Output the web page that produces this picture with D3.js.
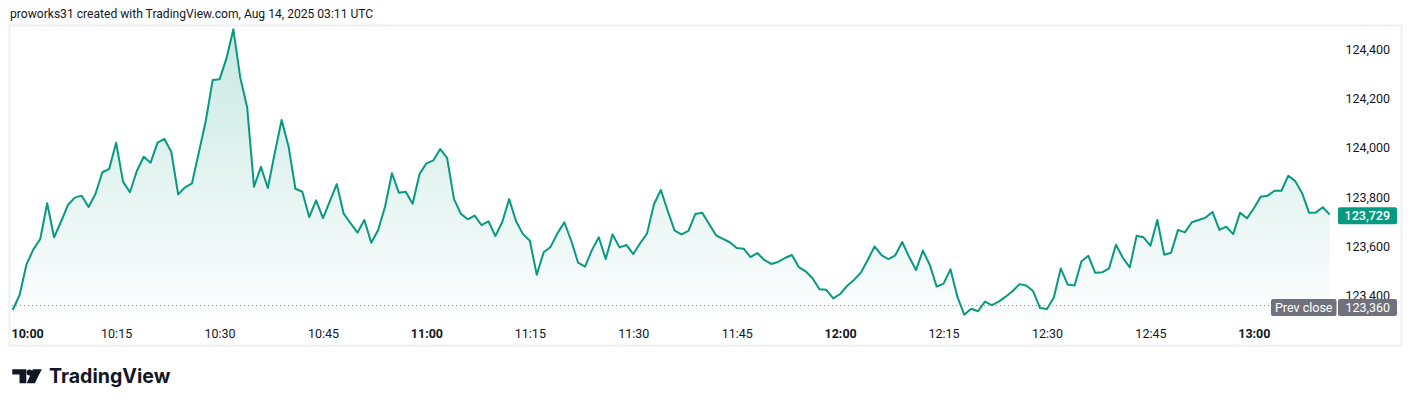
<!DOCTYPE html>
<html>
<head>
<meta charset="utf-8">
<script src="https://cdn.jsdelivr.net/npm/d3@7"></script>
<style>
  html, body { margin: 0; padding: 0; background: #ffffff; }
  svg { display: block; font-family: Roboto, "Liberation Sans", sans-serif; }
</style>
</head>
<body>
<svg id="chart" width="1412" height="407"></svg>
<script>
// ---- data ----
const startTime = "2025-08-14T10:00:00";
const prices = [
  123342,123403,123527,123588,123630,123775,123637,123700,123768,123798,
  123806,123760,123813,123901,123915,124021,123863,123820,123906,123964,
  123940,124021,124036,123984,123811,123840,123856,123982,124109,124275,
  124278,124363,124481,124286,124165,123842,123923,123837,123978,124113,
  124007,123834,123822,123719,123787,123715,123784,123853,123733,123694,
  123656,123707,123615,123667,123761,123897,123818,123822,123773,123894,
  123937,123949,123995,123959,123792,123732,123710,123725,123686,123702,
  123642,123699,123792,123702,123650,123623,123485,123576,123598,123653,
  123698,123623,123534,123518,123585,123637,123549,123649,123596,123606,
  123569,123613,123653,123771,123829,123744,123664,123649,123663,123732,
  123737,123691,123645,123631,123617,123594,123591,123557,123573,123545,
  123529,123537,123553,123565,123516,123499,123471,123426,123424,123389,
  123407,123439,123464,123493,123545,123600,123565,123548,123564,123618,
  123558,123504,123583,123525,123437,123449,123507,123396,123323,123347,
  123337,123376,123362,123376,123396,123418,123447,123441,123418,123350,
  123346,123394,123510,123445,123441,123540,123562,123493,123495,123511,
  123607,123554,123515,123643,123637,123603,123707,123566,123574,123667,
  123657,123698,123707,123717,123740,123667,123680,123650,123737,123714,
  123755,123802,123806,123826,123826,123887,123865,123816,123737,123738,
  123759,123729
];
const timeTickLabels = ["10:00","10:15","10:30","10:45","11:00","11:15","11:30","11:45","12:00","12:15","12:30","12:45","13:00"];
const boldTimeLabels = ["10:00","11:00","12:00","13:00"];
const priceTicks = [123400, 123600, 123800, 124000, 124200, 124400];
const prevClose = 123360;
const lastPrice = 123729;
const headerText = "proworks31 created with TradingView.com, Aug 14, 2025 03:11 UTC";

// ---- setup ----
const svg = d3.select("#chart");
const t0 = new Date(startTime);
const parseHM = s => { const [h, m] = s.split(":").map(Number); const d = new Date(t0); d.setHours(h, m, 0, 0); return d; };
const data = prices.map((v, i) => ({ t: new Date(t0.getTime() + i * 60000), v }));

const x = d3.scaleTime()
  .domain([data[0].t, data[data.length - 1].t])
  .range([12.7, 1329.7]);
const y = d3.scaleLinear()
  .domain([123400, 124400])
  .range([295.7, 49.3]);

const green = "#089981";
const textColor = "#131722";
const paneBottom = 319;
const axisRight = 1390;

// header
svg.append("text")
  .attr("x", 10).attr("y", 18)
  .attr("font-size", 12.1).attr("fill", textColor)
  .text(headerText);

// outer border
svg.append("rect")
  .attr("x", 9.5).attr("y", 25.5).attr("width", 1392).attr("height", 320)
  .attr("fill", "none").attr("stroke", "#eef0f3").attr("stroke-width", 2);

// gradient
const defs = svg.append("defs");
const grad = defs.append("linearGradient").attr("id", "areaGrad")
  .attr("x1", 0).attr("y1", 0).attr("x2", 0).attr("y2", 1);
grad.append("stop").attr("offset", "0%").attr("stop-color", green).attr("stop-opacity", 0.22);
grad.append("stop").attr("offset", "100%").attr("stop-color", green).attr("stop-opacity", 0.01);

const area = d3.area()
  .x(d => x(d.t)).y0(paneBottom).y1(d => y(d.v));
svg.append("path").datum(data)
  .attr("d", area)
  .attr("fill", "url(#areaGrad)");

// prev close dotted line
svg.append("line")
  .attr("x1", 12).attr("x2", 1270)
  .attr("y1", y(prevClose)).attr("y2", y(prevClose))
  .attr("stroke", "#8a8d96").attr("stroke-width", 1)
  .attr("stroke-dasharray", "1,3");

// price line
const line = d3.line().x(d => x(d.t)).y(d => y(d.v));
svg.append("path").datum(data)
  .attr("d", line)
  .attr("fill", "none")
  .attr("stroke", green)
  .attr("stroke-width", 2)
  .attr("stroke-linejoin", "round");

// time axis
const timeAxis = d3.axisBottom(x)
  .tickValues(timeTickLabels.map(parseHM))
  .tickFormat(d3.timeFormat("%H:%M"))
  .tickSize(0).tickPadding(0);
const gx = svg.append("g").attr("transform", `translate(0, 329)`).call(timeAxis);
gx.select(".domain").remove();
gx.selectAll("text")
  .attr("font-size", 12.5)
  .attr("fill", textColor)
  .attr("font-family", "Roboto, sans-serif")
  .attr("font-weight", d => boldTimeLabels.includes(d3.timeFormat("%H:%M")(d)) ? 700 : 400)
  .each(function(d) {
    const w = this.getComputedTextLength();
    const cx = x(d);
    if (cx - w / 2 < 11) d3.select(this).attr("x", 11 + w / 2 - cx);
  });

// price axis
const priceAxis = d3.axisRight(y)
  .tickValues(priceTicks)
  .tickFormat(d3.format(","))
  .tickSize(0).tickPadding(0);
const gy = svg.append("g").attr("transform", `translate(${axisRight}, 0)`).call(priceAxis);
gy.select(".domain").remove();
gy.selectAll("text")
  .attr("font-size", 12.5)
  .attr("fill", textColor)
  .attr("font-family", "Roboto, sans-serif")
  .attr("text-anchor", "end");

// price labels
function priceLabel(x0, w, yc, fill, txt, weight, anchorRight) {
  svg.append("rect").attr("x", x0).attr("y", yc - 8.5).attr("width", w).attr("height", 17)
    .attr("rx", 2).attr("fill", fill);
  svg.append("text").attr("x", anchorRight ? axisRight : x0 + w / 2).attr("y", yc).attr("dy", "0.35em")
    .attr("text-anchor", anchorRight ? "end" : "middle").attr("font-size", 12.5).attr("font-weight", weight || 400)
    .attr("fill", "#ffffff").text(txt);
}
const fmt = d3.format(",");
priceLabel(1338, 59, y(lastPrice) + 1, green, fmt(lastPrice), 500, true);
priceLabel(1271, 65.5, y(prevClose) + 2, "#6f727c", "Prev close", 400, false);
priceLabel(1338, 59, y(prevClose) + 2, "#6f727c", fmt(prevClose), 400, true);

// TradingView logo
const logo = svg.append("g").attr("fill", "#131722");
logo.append("path").attr("d", "M12.3,369.3 H26.3 V383.3 H19.5 V374.6 H12.3 Z");
logo.append("circle").attr("cx", 29.5).attr("cy", 372.4).attr("r", 3);
logo.append("path").attr("d", "M32.8,369.3 H41.8 L34.8,383.3 H26.8 Z");
svg.append("text")
  .attr("x", 49).attr("y", 383.3)
  .attr("font-family", "Inter, Roboto, sans-serif")
  .attr("font-weight", 700).attr("font-size", 19.6)
  .attr("fill", "#131722")
  .text("TradingView");
</script>
</body>
</html>
